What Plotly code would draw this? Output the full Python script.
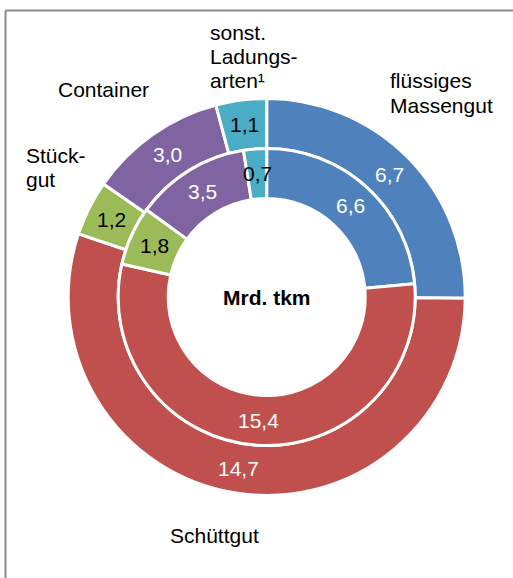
import math
import plotly.graph_objects as go

# ---- data ----
categories = ["flüssiges Massengut", "Schüttgut", "Stückgut", "Container", "sonst. Ladungsarten"]
outer_values = [6.7, 14.7, 1.2, 3.0, 1.1]
inner_values = [6.6, 15.4, 1.8, 3.5, 0.7]
colors = ["#4F81BD", "#C0504D", "#9BBB59", "#8064A2", "#4BACC6"]
outer_text_colors = ["white", "white", "black", "white", "black"]
inner_text_colors = ["white", "white", "black", "white", "black"]
center_label = "<b>Mrd. tkm</b>"

# category labels: (lines, left x px, first baseline y px, line spacing px)
cat_labels = [
    (["flüssiges", "Massengut"], 389, 88, 25),
    (["sonst.", "Ladungs-", "arten¹"], 209, 40, 24),
    (["Container"], 57, 97, 24),
    (["Stück-", "gut"], 25, 163, 24),
    (["Schüttgut"], 169, 543, 24),
]

# ---- layout geometry (pixels) ----
W, H = 513, 578
CX, CY = 266.7, 297.0
LW = 3
R_OUT, R_MID, R_HOLE = 198.5, 148.5, 98.5
FONT = "Liberation Sans, Arial, sans-serif"
FS = 21


def dom(r):
    return dict(x=[(CX - r) / W, (CX + r) / W],
                y=[(H - CY - r) / H, (H - CY + r) / H])


fig = go.Figure()
for vals, r, hole in [(outer_values, R_OUT, R_MID / R_OUT), (inner_values, R_MID, R_HOLE / R_MID)]:
    fig.add_trace(go.Pie(
        labels=categories, values=vals, sort=False, direction="clockwise", rotation=0,
        hole=hole, domain=dom(r), textinfo="none", showlegend=False,
        marker=dict(colors=colors, line=dict(color="white", width=LW)),
    ))

annotations = []


def px_to_paper(x, y):
    return x / W, 1 - y / H


def value_labels(vals, r_text, tcolors):
    total = sum(vals)
    cum = 0.0
    for v, c in zip(vals, tcolors):
        mid = (cum + v / 2) / total * 2 * math.pi
        cum += v
        x = CX + r_text * math.sin(mid)
        y = CY - r_text * math.cos(mid)
        px, py = px_to_paper(x, y)
        annotations.append(dict(x=px, y=py, xref="paper", yref="paper", showarrow=False,
                                text=f"{v:.1f}".replace(".", ","),
                                font=dict(family=FONT, size=FS, color=c),
                                xanchor="center", yanchor="middle"))


value_labels(outer_values, (R_MID + R_OUT) / 2, outer_text_colors)
value_labels(inner_values, (R_HOLE + R_MID) / 2, inner_text_colors)

cx_p, cy_p = px_to_paper(CX, CY)
annotations.append(dict(x=cx_p, y=cy_p, xref="paper", yref="paper", showarrow=False,
                        text=center_label, font=dict(family=FONT, size=FS, color="black"),
                        xanchor="center", yanchor="middle"))

for lines, lx, base, sp in cat_labels:
    for i, t in enumerate(lines):
        yb = base + i * sp
        px, py = px_to_paper(lx, yb - 7.3)
        annotations.append(dict(x=px, y=py, xref="paper", yref="paper", showarrow=False,
                                text=t, font=dict(family=FONT, size=FS, color="black"),
                                xanchor="left", yanchor="middle", borderpad=0))

shapes = [
    dict(type="line", xref="paper", yref="paper", x0=5.5 / W, x1=1.0, y0=1 - 10.5 / H, y1=1 - 10.5 / H,
         line=dict(color="#8C8C8C", width=2)),
    dict(type="line", xref="paper", yref="paper", x0=5.5 / W, x1=5.5 / W, y0=0.0, y1=1 - 10.5 / H,
         line=dict(color="#8C8C8C", width=2)),
]

fig.update_layout(
    width=W, height=H, margin=dict(l=0, r=0, t=0, b=0),
    paper_bgcolor="white", plot_bgcolor="white",
    annotations=annotations, shapes=shapes,
    font=dict(family=FONT, size=FS),
)

fig.write_html("out.html",
               config={"displayModeBar": False},
               post_script="document.body.style.margin='0';document.body.style.overflow='hidden';")
